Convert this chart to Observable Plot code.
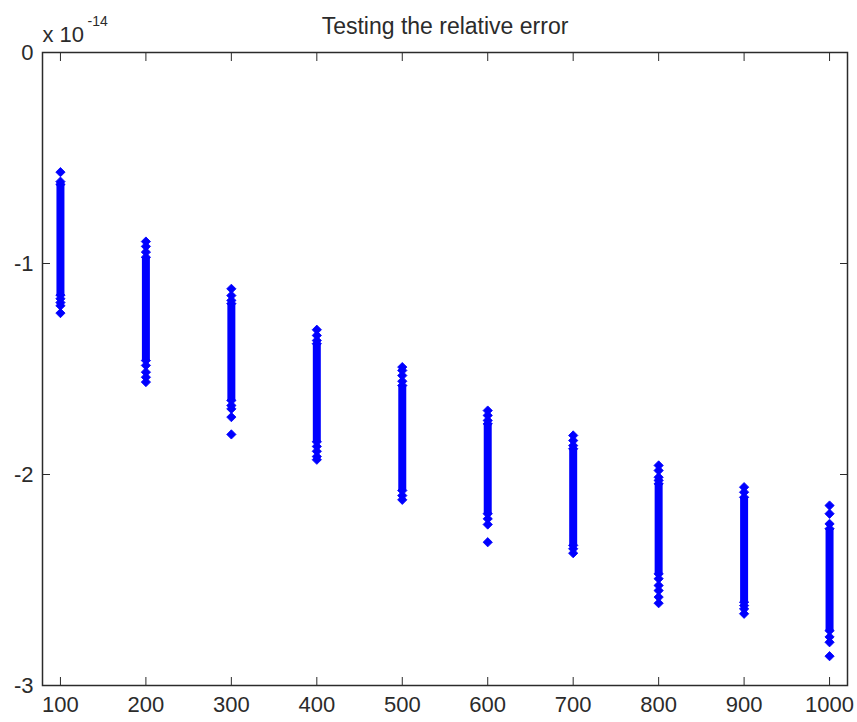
<!DOCTYPE html>
<html>
<head>
<meta charset="utf-8">
<script src="https://cdn.jsdelivr.net/npm/d3@7"></script>
<script src="https://cdn.jsdelivr.net/npm/@observablehq/plot@0.6"></script>
<style>
  html, body { margin: 0; padding: 0; background: #fff; }
  svg { display: block; }
</style>
</head>
<body>
<div id="chart"></div>
<script>
// Values are in units of 1e-14
const xs = [100, 200, 300, 400, 500, 600, 700, 800, 900, 1000];
const xTicks = [100, 200, 300, 400, 500, 600, 700, 800, 900, 1000];
const yTicks = [0, -1, -2, -3];
// dense part of each column (top / bottom)
const stripTop = [-0.625, -0.97, -1.19, -1.38, -1.578, -1.76, -1.878, -2.044, -2.108, -2.257];
const stripBottom = [-1.15, -1.46, -1.649, -1.845, -2.076, -2.186, -2.336, -2.471, -2.605, -2.74];
// separate visible points around the dense parts, per column
const extra100 = [-0.567, -0.612, -1.167, -1.185, -1.20, -1.235];
const extra200 = [-0.896, -0.919, -0.946, -1.483, -1.515, -1.539, -1.562];
const extra300 = [-1.12, -1.152, -1.175, -1.673, -1.689, -1.728, -1.81];
const extra400 = [-1.314, -1.341, -1.365, -1.867, -1.89, -1.915, -1.93];
const extra500 = [-1.491, -1.507, -1.531, -1.558, -2.10, -2.12];
const extra600 = [-1.697, -1.72, -1.744, -2.21, -2.237, -2.321];
const extra700 = [-1.815, -1.839, -1.863, -2.352, -2.373];
const extra800 = [-1.957, -1.981, -2.013, -2.028, -2.494, -2.526, -2.55, -2.581, -2.61];
const extra900 = [-2.06, -2.084, -2.621, -2.637, -2.66];
const extra1000 = [-2.147, -2.186, -2.234, -2.77, -2.795, -2.861];

const extras = [extra100, extra200, extra300, extra400, extra500, extra600, extra700, extra800, extra900, extra1000];

const strips = xs.map((x, i) => ({x, top: stripTop[i], bottom: stripBottom[i]}));
const points = [];
xs.forEach((x, i) => {
  points.push({x, y: stripTop[i]}, {x, y: stripBottom[i]});
  extras[i].forEach(y => points.push({x, y}));
});

const blue = "#0000ff";
const ink = "#2b2b2b";
const noLabel = () => "";

const chart = Plot.plot({
  width: 857,
  height: 722,
  marginLeft: 42,
  marginRight: 10,
  marginTop: 52,
  marginBottom: 37,
  style: {fontFamily: "'Liberation Sans', Arial, sans-serif", fontSize: "22px", color: ink, background: "#fff"},
  x: {domain: [79, 1021]},
  y: {domain: [-3, 0]},
  marks: [
    Plot.ruleX(strips, {x: "x", y1: "top", y2: "bottom", stroke: blue, strokeWidth: 8}),
    Plot.dot(points, {x: "x", y: "y", symbol: "square", rotate: 45, r: 3.7, fill: blue, stroke: blue, strokeWidth: 0.8}),
    Plot.frame({stroke: ink, strokeWidth: 1.5}),
    Plot.axisX(xTicks, {anchor: "bottom", tickSize: -8, tickPadding: 19, stroke: ink, fill: ink, fontSize: 22, tickFormat: d => String(d), label: null}),
    Plot.axisX(xTicks, {anchor: "top", tickSize: -8, stroke: ink, tickFormat: noLabel, label: null}),
    Plot.axisY(yTicks, {anchor: "left", tickSize: -8, tickPadding: 17, stroke: ink, fill: ink, fontSize: 22, tickFormat: d => String(d), label: null}),
    Plot.axisY(yTicks, {anchor: "right", tickSize: -8, stroke: ink, tickFormat: noLabel, label: null}),
    Plot.text(["Testing the relative error"], {frameAnchor: "top", dy: -19, lineAnchor: "bottom", textAnchor: "middle", fontSize: 23, fill: ink}),
    Plot.text(["x 10"], {frameAnchor: "top-left", dx: 0, dy: -11, lineAnchor: "bottom", textAnchor: "start", fontSize: 22, fill: ink}),
    Plot.text(["-14"], {frameAnchor: "top-left", dx: 45, dy: -27, lineAnchor: "bottom", textAnchor: "start", fontSize: 14, fill: ink})
  ]
});
document.getElementById("chart").appendChild(chart);
</script>
</body>
</html>
